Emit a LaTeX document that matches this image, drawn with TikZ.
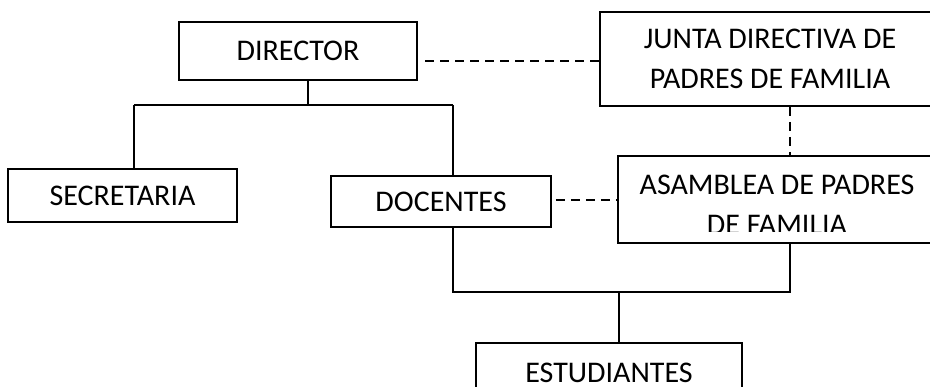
\documentclass[tikz,border=0pt]{standalone}
\usepackage{fontspec}
\setmainfont{Carlito}
\begin{document}
\begin{tikzpicture}[x=1pt,y=-1pt,
  orgbox/.style={draw=black,line width=1.8pt,inner sep=0pt,align=center,
    font=\fontsize{30}{39.5}\selectfont},
  orgtext/.style={inner sep=0pt,align=center,font=\fontsize{30}{39.5}\selectfont},
  link/.style={line width=2pt},
  buslink/.style={line width=2.8pt},
  dashlink/.style={line width=2pt,dash pattern=on 9pt off 6pt}]
\useasboundingbox (0,0) rectangle (930,387);
\clip (0,0) rectangle (930,387);
% boxes
\node[orgbox,minimum width=238pt,minimum height=58pt] (director) at (298,51) {DIRECTOR};
\node[orgbox,minimum width=340pt,minimum height=94pt] (junta) at (770,59) {JUNTA DIRECTIVA DE\\PADRES DE FAMILIA};
\node[orgbox,minimum width=229pt,minimum height=53pt] (secretaria) at (122.5,195.5) {SECRETARIA};
\node[orgbox,minimum width=220pt,minimum height=51pt] (docentes) at (441,201.5) {DOCENTES};
\node[orgbox,minimum width=318pt,minimum height=87pt] (asamblea) at (777,199.5) {};
\begin{scope}
  \clip (618,156) rectangle (936,232);
  \node[orgtext] (asambleatxt) at (777,205) {ASAMBLEA DE PADRES\\DE FAMILIA};
\end{scope}
\node[orgbox,minimum width=266pt,minimum height=59pt] (estudiantes) at (609,372.5) {ESTUDIANTES};
% junction coordinates
\coordinate (busL) at (134,105);
\coordinate (busD) at (308,105);
\coordinate (busR) at (453,105);
\coordinate (bus2L) at (453,292);
\coordinate (bus2M) at (619,292);
\coordinate (bus2R) at (790,292);
\coordinate (dashL) at (425,61);
% solid connectors
\draw[link] (director.south -| busD) -- (busD);
\draw[buslink] (busL) -- (busR);
\draw[link] (busL) -- (secretaria.north -| busL);
\draw[link] (busR) -- (docentes.north -| busR);
\draw[link] (docentes.south -| bus2L) -- (bus2L) -- (bus2R) -- (asamblea.south -| bus2R);
\draw[link] (bus2M) -- (estudiantes.north -| bus2M);
% dashed connectors
\draw[dashlink] (dashL) -- (dashL -| junta.west);
\draw[dashlink] (junta.south -| bus2R) -- (asamblea.north -| bus2R);
\draw[dashlink] ([xshift=4pt,yshift=1.5pt]docentes.east) -- ([yshift=1.5pt]docentes.east -| asamblea.west);
\end{tikzpicture}
\end{document}
